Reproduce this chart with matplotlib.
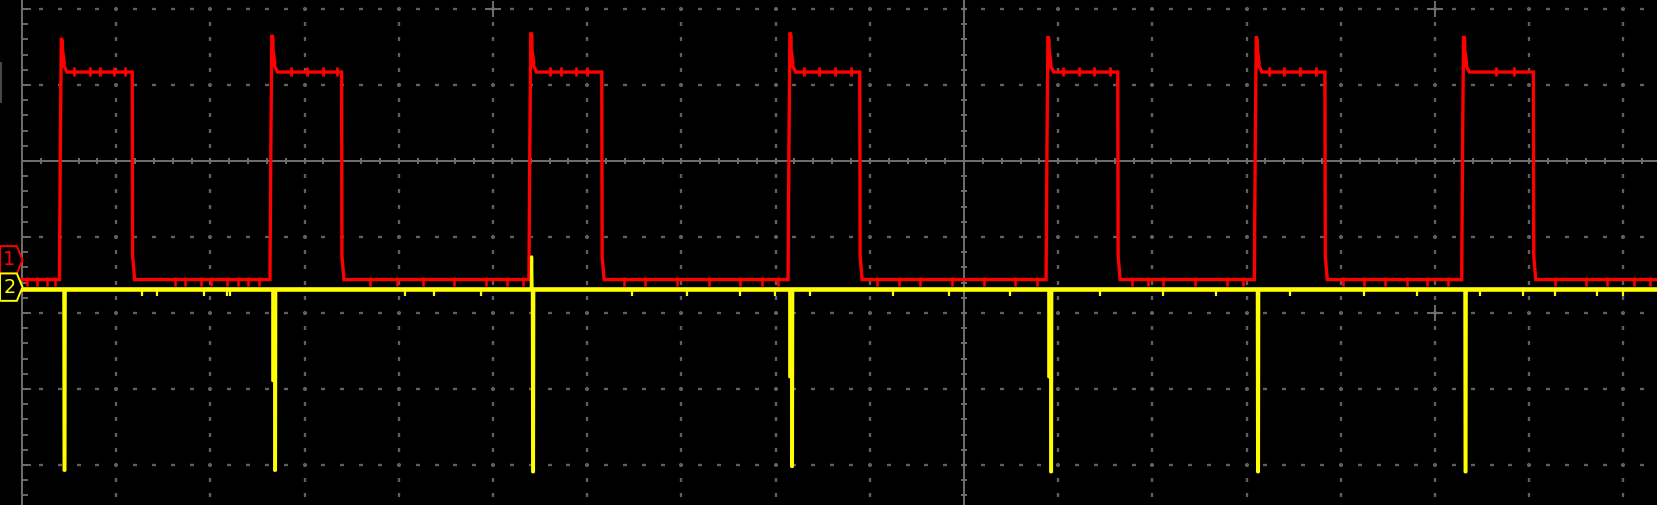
"""
Oscilloscope capture: CH1 square wave (red) and CH2 trigger spikes (yellow)
"""

import numpy as np
import matplotlib.pyplot as plt
from matplotlib.patches import Polygon

# ======================================================
# 1. Trace data (units = screen divisions, 0 = screen centre)
# ======================================================
red_rise = [-9.583, -7.348, -4.599, -1.848, 0.891, 3.102, 5.303]
red_fall = [-8.830, -6.608, -3.846, -1.107, 1.632, 3.831, 6.044]
red_peak = [1.62, 1.66, 1.69, 1.69, 1.64, 1.64, 1.645]
red_low = -1.56
red_high = 1.17

# small noise ticks seen on CH1
red_low_glitch = [-9.95, -9.84, -9.73, -9.65, -8.38, -8.27, -8.10, -7.99, -7.82,
                  -7.71, -7.60, -7.48, -6.31, -6.02, -5.74, -5.41, -5.07, -4.85,
                  -4.68, -3.61, -3.39, -3.05, -2.71, -2.38, -2.15, -1.98, -0.92,
                  -0.69, -0.47, -0.13, 0.21, 0.54, 0.77, 1.78, 1.95, 2.11, 2.45,
                  2.79, 2.96, 4.02, 4.25, 4.47, 4.70, 4.92, 5.14, 6.27, 6.60,
                  6.83, 7.11, 7.28]
red_high_glitch = [-9.45, -9.28, -9.17, -9.02, -8.91, -7.15, -6.98, -6.81, -6.66,
                   -4.40, -4.28, -4.12, -4.00, -1.70, -1.54, -1.37, -1.20, 1.05,
                   1.22, 1.38, 1.55, 3.24, 3.40, 3.57, 3.74, 5.65, 5.84]

yellow_spike = [-9.549, -7.314, -4.575, -1.826, 0.924, 3.121, 5.324]
yellow_depth = [-4.07, -4.07, -4.09, -4.02, -4.09, -4.09, -4.09]
yellow_step = [None, -2.89, None, -2.84, -2.84, None, None]
yellow_up = [None, None, -1.26, None, None, None, None]
yellow_base = -1.69

yellow_glitch = [-8.73, -8.57, -8.07, -7.82, -7.79, -5.93, -5.63, -5.13, -3.52,
                 -2.94, -2.38, -2.01, -1.63, -0.75, -0.16, 0.49, 1.44, 2.11,
                 2.68, 3.46, 4.25, 4.81, 5.48, 5.93, 6.27, 6.72, 7.00]

XMIN, XMAX = -10.234, 7.367
YMIN, YMAX = -4.526, 2.118

RED = "#ff0000"
YEL = "#ffff00"
GRID = "#606060"
AXIS = "#707070"

# ======================================================
# 2. Screen + graticule
# ======================================================
fig = plt.figure(figsize=(16.58, 5.05), dpi=100)
fig.patch.set_facecolor("black")
ax = fig.add_axes([0, 0, 1, 1])
ax.set_facecolor("black")
ax.set_xlim(XMIN, XMAX)
ax.set_ylim(YMIN, YMAX)
ax.axis("off")

ydots = np.round(np.arange(-22, 11) * 0.2, 3)
xdots = np.round(np.arange(-49, 37) * 0.2, 3)

for gx in range(-9, 8):
    if gx == 0:
        continue
    ax.plot(np.full(len(ydots), gx), ydots, ls="none", marker="|",
            ms=3.4, mew=1.7, color=GRID, zorder=1)
for gy in range(-4, 3):
    if gy == 0:
        continue
    ax.plot(xdots, np.full(len(xdots), gy), ls="none",
            marker="_", ms=3.4, mew=1.7, color=GRID, zorder=1)

# centre cross-hair with minor ticks
ax.axvline(0, color=AXIS, lw=1.4, zorder=1)
ax.plot([-10, XMAX], [0, 0], color=AXIS, lw=1.4, zorder=1)
ax.plot(np.zeros(len(ydots)), ydots, ls="none", marker="_", ms=5, mew=1.4,
        color=AXIS, zorder=1)
ax.plot(xdots, np.zeros(len(xdots)), ls="none",
        marker="|", ms=5, mew=1.4, color=AXIS, zorder=1)

# left edge of graticule
ax.axvline(-10, color=AXIS, lw=1.4, zorder=1)
ax.hlines(ydots, -10, -9.935, color=AXIS, lw=1.3, zorder=1)
ax.hlines(np.arange(-4, 3), -10, -9.90, color=AXIS, lw=1.3, zorder=1)
ax.plot([-10.222, -10.222], [0.776, 1.29], color="#4a4a4a", lw=1.4, zorder=1)

ax.plot([-5, 5, 5], [2, 2, -2], ls="none", marker="+", ms=11, mew=1.4,
        color=AXIS, zorder=1)

# ======================================================
# 3. CH1 (red)
# ======================================================
rx, ry = [-10.0], [red_low]
for r, f, pk in zip(red_rise, red_fall, red_peak):
    rx += [r - 0.02, r - 0.01, r, r + 0.012, r + 0.012, r + 0.03, r + 0.03,
           r + 0.06, f, f + 0.004, f + 0.025]
    ry += [red_low, 0.3, pk, pk - 0.05, 1.47, 1.30, 1.25,
           red_high, red_high, -1.25, red_low]
rx.append(XMAX)
ry.append(red_low)
ax.plot(rx, ry, color=RED, lw=2.4, solid_joinstyle="miter", zorder=3)
ax.vlines(red_low_glitch, red_low - 0.08, red_low + 0.04, color=RED,
          lw=1.8, zorder=3)
ax.vlines(red_high_glitch, red_high - 0.05, red_high + 0.07, color=RED,
          lw=2.0, zorder=3)

# ======================================================
# 4. CH2 (yellow)
# ======================================================
yx, yy = [-10.0], [yellow_base]
for s, d, st, up in zip(yellow_spike, yellow_depth, yellow_step, yellow_up):
    if up is not None:
        yx += [s - 0.02, s - 0.015, s - 0.01]
        yy += [yellow_base, up, yellow_base]
    if st is not None:
        yx += [s - 0.025, s - 0.025, s - 0.005]
        yy += [yellow_base, st, st]
    else:
        yx += [s - 0.008]
        yy += [yellow_base]
    yx += [s - 0.005, s + 0.005, s + 0.008]
    yy += [d, d, yellow_base]
yx.append(XMAX)
yy.append(yellow_base)
ax.plot(yx, yy, color=YEL, lw=2.2, zorder=4)
ax.plot([-10.0, XMAX], [yellow_base, yellow_base], color=YEL, lw=3.3, zorder=4)
ax.vlines(yellow_glitch, yellow_base - 0.09, yellow_base, color=YEL,
          lw=1.6, zorder=4)

# ======================================================
# 5. Channel ground markers
# ======================================================
def marker(yc, half, color, label):
    pts = [(XMIN, yc + half), (-10.055, yc + half), (-9.995, yc),
           (-10.055, yc - half), (XMIN, yc - half)]
    ax.add_patch(Polygon(pts, closed=True, facecolor="black", edgecolor=color,
                         lw=1.4, zorder=5, clip_on=False))
    ax.text(-10.135, yc, label, color=color, fontsize=14, ha="center",
            va="center", zorder=6, family="DejaVu Sans")

marker(-1.30, 0.18, RED, "1")
marker(-1.66, 0.18, YEL, "2")

plt.savefig("out.png", dpi=100, facecolor="black")
plt.close()
